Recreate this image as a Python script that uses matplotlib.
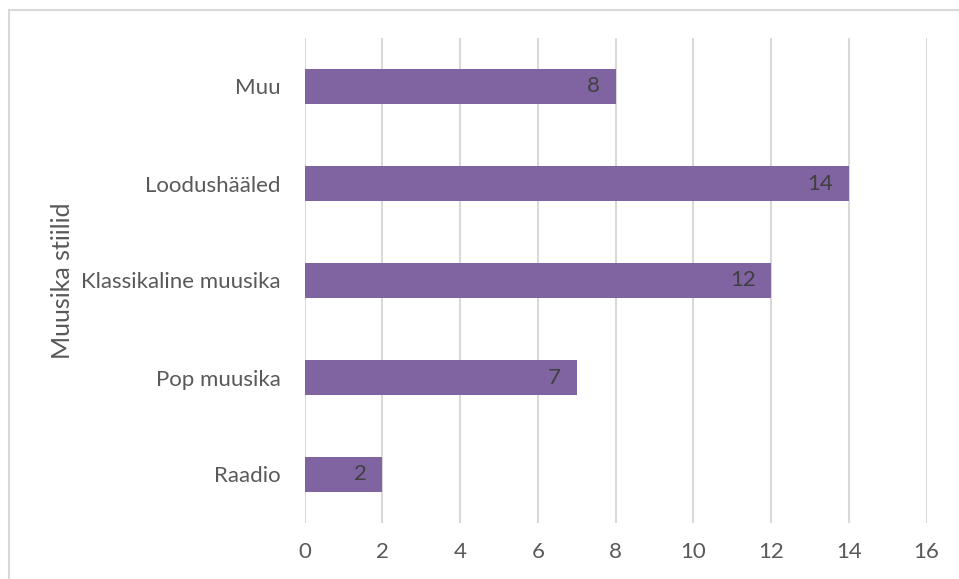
import matplotlib.pyplot as plt
import matplotlib.patches as mpatches

# andmed
categories = ['Raadio', 'Pop muusika', 'Klassikaline muusika', 'Loodushääled', 'Muu']
values = [2, 7, 12, 14, 8]
xticks = [0, 2, 4, 6, 8, 10, 12, 14, 16]

bar_color = '#8064A2'
grid_color = '#D9D9D9'
text_color = '#595959'

plt.rcParams['font.family'] = ['Lato', 'DejaVu Sans']

fig = plt.figure(figsize=(9.59, 5.79), dpi=100)
ax = fig.add_axes([304.5 / 959, 1 - 523 / 579, (926.6 - 304.5) / 959, (523 - 38) / 579])

ax.barh(range(len(categories)), values, height=0.36, color=bar_color, zorder=3)

for i, v in enumerate(values):
    ax.text(v - 0.4, i, str(v), ha='right', va='center', fontsize=16,
            color='#404040', zorder=4)

ax.set_xlim(0, 16)
ax.set_ylim(-0.5, len(categories) - 0.5)
ax.set_xticks(xticks)
ax.set_yticks(range(len(categories)))
ax.set_yticklabels(categories)
ax.tick_params(axis='both', length=0, labelsize=16, labelcolor=text_color)
ax.tick_params(axis='x', pad=14)
ax.tick_params(axis='y', pad=17)
ax.xaxis.grid(True, color=grid_color, linewidth=1.5, zorder=0)
ax.yaxis.grid(False)
for s in ax.spines.values():
    s.set_visible(False)

ax.set_ylabel('Muusika stiilid', fontsize=18, color=text_color)
ax.yaxis.set_label_coords(-0.37, 0.5)

# raam ümber graafiku
fig.add_artist(mpatches.Rectangle((9 / 959, -0.05), 1.0, 1 - 9.5 / 579 + 0.05,
                                  transform=fig.transFigure, fill=False,
                                  edgecolor=grid_color, linewidth=1.5))

fig.savefig('out.png', dpi=100)
